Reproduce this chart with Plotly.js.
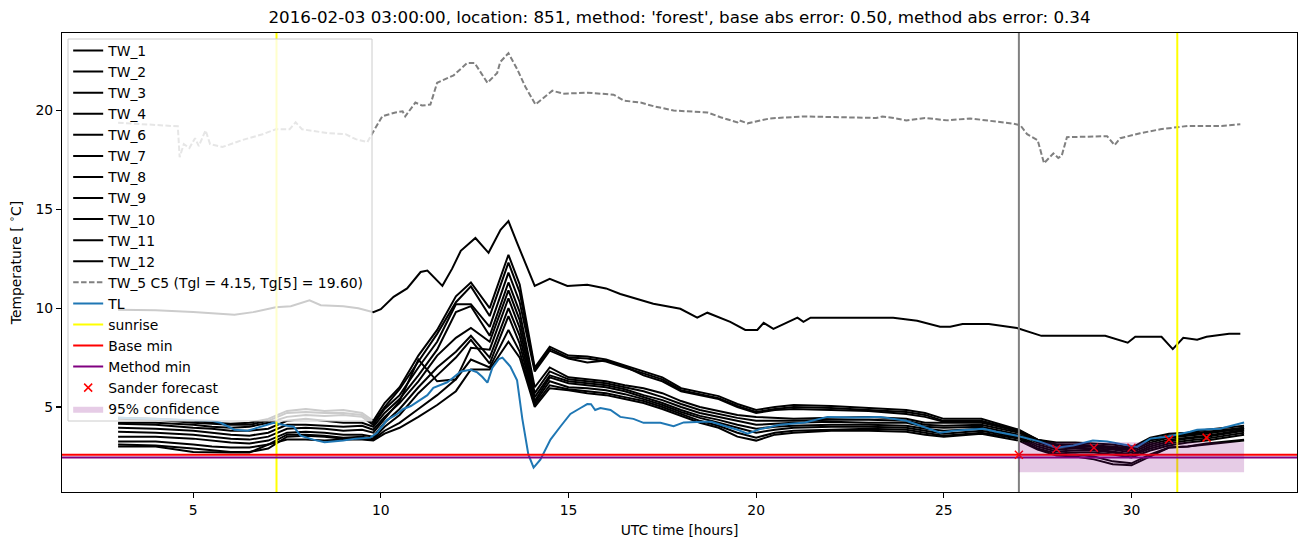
<!DOCTYPE html>
<html><head><meta charset="utf-8">
<script src="https://cdn.plot.ly/plotly-3.0.1.min.js"></script>
<style>html,body{margin:0;padding:0;background:#fff}#chart{width:1310px;height:547px}</style>
</head><body><div id="chart"></div>
<script>
// ---------------- data ----------------
const bandHours = [3,4,5,5.5,6,6.5,7,7.5,8,8.5,9,9.5,9.8,10.1,10.5,11,11.5,12,12.4,12.9,13.4,13.7,14.1,14.5,15,15.5,16,16.5,17,17.5,18,18.5,19,19.5,20,20.5,21,22,23,24,24.5,25,26,27,27.5,28,28.5,29,29.5,30,30.5,31,31.5,32,33];
const TW_2  = [4.45,4.4,4.3,4.2,4.15,4.2,4.4,4.8,4.9,4.8,4.85,4.7,4.3,5.2,6.0,7.6,8.9,10.6,11.3,10.0,12.7,11.2,7.0,8.05,7.6,7.55,7.4,7.1,6.8,6.5,5.95,5.75,5.55,5.15,4.85,5.0,5.1,5.05,4.95,4.85,4.7,4.4,4.4,3.85,3.35,3.2,3.2,3.15,3.1,2.95,3.45,3.65,3.7,3.85,4.05];
const TW_3  = [4.4,4.35,4.2,4.15,4.1,4.1,4.3,4.7,4.75,4.7,4.7,4.6,4.2,5.0,5.9,7.3,8.7,10.3,11.1,9.6,12.3,10.8,6.9,7.95,7.5,7.45,7.3,7.0,6.7,6.4,5.85,5.65,5.45,5.05,4.75,4.9,5.0,4.95,4.85,4.75,4.6,4.3,4.3,3.8,3.3,3.1,3.1,3.05,3.0,2.9,3.35,3.55,3.65,3.75,3.95];
const TW_4  = [4.2,4.2,4.1,4.0,3.95,4.0,4.2,4.5,4.6,4.55,4.6,4.5,4.1,4.9,5.6,7.0,8.3,10.2,10.2,9.05,11.8,10.3,6.8,7.85,7.45,7.25,7.35,7.05,6.6,6.3,5.8,5.6,5.4,5.0,4.7,4.85,4.9,4.85,4.8,4.65,4.5,4.25,4.25,3.75,3.25,3.05,3.0,3.0,2.95,2.85,3.3,3.5,3.6,3.7,3.9];
const TW_6  = [4.15,4.1,3.95,3.9,3.8,3.8,3.9,4.3,4.4,4.3,4.2,4.2,4.0,4.7,5.4,6.6,7.9,9.8,10.1,8.6,11.3,9.8,6.0,7.0,6.5,6.4,6.3,6.1,5.95,5.7,5.3,5.0,4.8,4.6,4.5,4.45,4.4,4.45,4.5,4.4,4.2,4.2,4.2,3.8,3.35,3.1,3.05,3.0,2.9,2.8,3.2,3.45,3.55,3.65,3.95];
const TW_7  = [3.95,3.9,3.8,3.7,3.6,3.55,3.7,4.1,4.1,4.05,4.0,4.05,3.85,4.5,5.2,6.3,7.6,8.5,9.0,8.3,10.9,9.4,5.7,6.8,6.4,6.3,6.2,6.0,5.8,5.5,5.15,4.85,4.65,4.45,4.3,4.3,4.3,4.35,4.35,4.3,4.1,4.05,4.1,3.7,3.25,3.0,2.95,2.9,2.85,2.7,3.1,3.35,3.45,3.55,3.85];
const TW_8  = [3.75,3.7,3.6,3.5,3.4,3.35,3.5,3.9,3.95,3.9,3.8,3.85,3.7,4.4,5.3,7.4,6.3,6.4,8.0,7.9,10.5,9.0,5.5,6.6,6.3,6.2,6.1,5.9,5.6,5.35,5.0,4.7,4.5,4.3,4.1,4.15,4.2,4.25,4.2,4.2,4.0,3.95,4.0,3.6,3.2,2.95,2.9,2.85,2.75,2.6,3.0,3.25,3.4,3.5,3.8];
const TW_9  = [3.5,3.5,3.4,3.3,3.2,3.15,3.3,3.7,3.75,3.7,3.6,3.6,3.5,4.2,4.9,6.0,7.0,7.8,8.6,7.5,10.0,8.6,5.3,6.5,6.2,6.1,6.0,5.8,5.5,5.2,4.85,4.55,4.35,4.1,3.9,4.0,4.05,4.1,4.1,4.05,3.9,3.8,3.9,3.5,3.1,2.85,2.8,2.8,2.7,2.55,2.9,3.15,3.3,3.4,3.7];
const TW_10 = [3.25,3.25,3.1,3.0,2.95,2.95,3.1,3.6,3.6,3.55,3.45,3.5,3.4,4.0,4.6,5.7,6.6,7.5,8.4,7.2,9.6,8.2,5.2,6.3,6.0,5.95,5.85,5.65,5.4,5.1,4.75,4.45,4.2,3.95,3.7,3.85,3.95,4.0,4.0,3.95,3.8,3.65,3.8,3.45,3.0,2.75,2.7,2.7,2.6,2.45,2.8,3.05,3.2,3.3,3.6];
const TW_11 = [3.1,3.05,2.9,2.8,2.72,2.72,2.9,3.5,3.55,3.5,3.4,3.4,3.35,3.8,4.2,4.9,5.6,6.4,7.4,7.0,8.9,7.8,5.1,6.1,5.9,5.8,5.7,5.5,5.3,5.0,4.65,4.3,4.05,3.7,3.45,3.7,3.8,3.85,3.9,3.85,3.7,3.55,3.7,3.4,2.9,2.65,2.6,2.5,2.25,2.15,2.6,2.95,3.0,3.15,3.35];
const TW_12 = [3.0,3.0,2.72,2.7,2.7,2.7,3.1,3.35,3.35,3.3,3.35,3.35,3.3,3.65,3.95,4.5,5.1,5.8,6.9,6.9,8.3,7.5,5.0,5.95,5.85,5.7,5.6,5.4,5.2,4.9,4.55,4.2,3.95,3.5,3.3,3.6,3.7,3.8,3.8,3.75,3.6,3.5,3.65,3.3,2.85,2.55,2.5,2.35,2.1,2.05,2.5,2.95,3.0,3.1,3.3];

const tw1Hours = [3.0,4.0,5.0,6.1,6.6,7.2,7.6,8.1,8.4,9.0,9.4,9.8,10.0,10.34,10.7,11.06,11.24,11.4,11.64,11.9,12.13,12.52,12.87,13.19,13.4,13.63,14.1,14.5,14.97,15.5,16.0,16.38,16.8,17.26,17.98,18.43,18.7,19.31,19.71,20.03,20.2,20.46,21.1,21.26,21.45,23.65,24.29,24.9,25.17,25.5,26.2,26.95,27.6,29.3,29.9,30.1,30.8,31.1,31.38,31.75,32.0,32.6,32.9];
const TW_1 = [9.92,9.9,9.8,9.67,9.8,10.05,10.1,10.4,10.15,10.1,10.0,9.8,9.95,10.57,11.0,11.83,11.9,11.6,11.13,12.0,12.9,13.55,12.8,13.96,14.4,13.3,11.13,11.48,11.12,11.18,11.0,10.72,10.5,10.22,9.97,9.52,9.77,9.31,8.9,8.9,9.26,8.95,9.52,9.31,9.52,9.52,9.36,9.06,9.06,9.2,9.2,9.0,8.6,8.6,8.25,8.55,8.55,7.93,8.5,8.4,8.55,8.7,8.7];

const tw5Hours = [3.0,4.59,4.64,4.75,4.9,5.05,5.15,5.33,5.45,5.78,6.3,6.85,7.2,7.57,7.73,7.9,8.6,9.06,9.33,9.64,9.82,10.04,10.39,10.58,10.65,10.92,11.1,11.32,11.5,11.94,12.3,12.5,12.84,13.1,13.18,13.4,13.63,13.85,14.12,14.57,14.86,15.5,16.2,16.47,16.92,17.3,17.8,18.7,19.05,19.5,19.55,19.77,20.37,21.26,23.2,23.36,23.57,24.0,24.5,25.1,25.7,26.17,26.86,27.04,27.22,27.5,27.67,27.92,28.05,28.14,28.28,29.35,29.55,29.7,30.23,30.77,31.2,31.5,32.4,32.9];
const TW_5 = [19.38,19.2,17.64,18.3,18.1,18.6,18.2,19.0,18.3,18.15,18.5,18.8,19.05,19.05,19.4,19.05,18.85,18.8,18.55,18.4,19.0,19.71,19.9,19.96,19.7,20.4,20.25,20.3,21.4,21.78,22.4,22.4,21.4,21.9,22.45,22.9,22.1,21.2,20.3,21.0,20.85,20.9,20.8,20.5,20.4,20.2,20.0,19.9,19.66,19.4,19.5,19.35,19.6,19.7,19.62,19.7,19.65,19.5,19.62,19.5,19.6,19.5,19.33,19.25,18.8,18.5,17.33,17.83,17.6,17.7,18.65,18.7,18.25,18.6,18.85,19.05,19.15,19.22,19.22,19.3];

const tlHours = [3.0,4.0,5.0,5.5,5.73,6.1,6.45,6.8,7.15,7.5,7.68,7.86,8.2,8.5,9.0,9.33,9.72,9.9,10.17,10.4,10.6,10.8,11.06,11.24,11.4,11.77,11.86,12.13,12.39,12.57,12.7,12.84,12.97,13.14,13.24,13.45,13.63,13.77,13.93,14.07,14.25,14.52,14.78,15.05,15.32,15.5,15.6,15.71,15.85,16.12,16.38,16.73,17.0,17.45,17.8,18.07,18.6,18.8,19.23,19.5,19.77,20.1,20.64,21.3,21.9,22.6,23.3,24.0,24.3,24.9,25.25,25.8,26.05,26.4,26.95,27.56,28.0,28.45,28.97,29.35,29.97,30.15,30.5,30.95,31.56,31.75,32.36,33.0];
const TL = [4.45,4.4,4.35,4.3,4.2,3.85,3.8,4.0,4.2,4.05,4.0,3.55,3.35,3.22,3.3,3.4,3.45,3.7,4.35,4.6,4.9,5.05,5.37,5.6,5.97,6.25,6.38,6.8,6.88,6.75,6.53,6.23,6.98,7.42,7.5,7.05,6.35,4.4,2.6,1.93,2.34,3.35,4.0,4.65,4.95,5.15,5.14,4.85,4.95,4.85,4.5,4.4,4.2,4.2,4.03,4.22,4.25,4.25,4.0,3.85,3.65,3.88,4.1,4.22,4.5,4.47,4.5,4.3,4.1,3.7,3.8,3.85,3.9,3.75,3.55,3.25,2.94,3.05,3.3,3.25,3.05,2.98,3.4,3.5,3.75,3.85,3.9,4.22];

const sunriseHours = [7.22, 31.22];
const forecastStart = 27;
const baseMin = 2.59;
const methodMin = 2.45;
const sanderHours = [27, 28, 29, 30, 31, 32];
const sanderForecast = [2.58, 2.88, 2.94, 2.94, 3.35, 3.45];
const confHours = [27, 33];
const confLow = [1.70, 1.70];
const confHigh = [3.22, 3.22];

const twNames = ['TW_1','TW_2','TW_3','TW_4','TW_6','TW_7','TW_8','TW_9','TW_10','TW_11','TW_12'];
const twSeries = [TW_1, TW_2, TW_3, TW_4, TW_6, TW_7, TW_8, TW_9, TW_10, TW_11, TW_12];
const tw5Label = 'TW_5 C5 (Tgl = 4.15, Tg[5] = 19.60)';

const xRange = [1.505, 34.41];
const yRange = [0.7, 23.92];

// ---------------- traces ----------------
const traces = [];
twSeries.forEach((s, i) => {
  traces.push({
    x: i === 0 ? tw1Hours : bandHours, y: s, name: twNames[i], type: 'scatter', mode: 'lines',
    line: {color: '#000000', width: 2}
  });
});
traces.push({x: tw5Hours, y: TW_5, name: tw5Label, mode: 'lines', line: {color: '#808080', width: 2, dash: '5.5px,2.4px'}});
traces.push({x: tlHours, y: TL, name: 'TL', mode: 'lines', line: {color: '#1f77b4', width: 2}});

const sx = [], sy = [];
sunriseHours.forEach(h => { sx.push(h, h, null); sy.push(yRange[0], yRange[1], null); });
traces.push({x: sx, y: sy, name: 'sunrise', mode: 'lines', line: {color: '#ffff00', width: 2}});
traces.push({x: [forecastStart, forecastStart], y: yRange, mode: 'lines', showlegend: false, line: {color: '#808080', width: 2}});
traces.push({x: xRange, y: [baseMin, baseMin], name: 'Base min', mode: 'lines', line: {color: '#ff0000', width: 2}});
traces.push({x: xRange, y: [methodMin, methodMin], name: 'Method min', mode: 'lines', line: {color: '#800080', width: 2}});
traces.push({x: sanderHours, y: sanderForecast, name: 'Sander forecast', mode: 'markers',
  marker: {symbol: 'x-thin-open', size: 8, color: '#ff0000', line: {color: '#ff0000', width: 1.5}}});
traces.push({x: confHours.concat(confHours.slice().reverse()), y: confHigh.concat(confLow.slice().reverse()),
  name: '95% confidence', mode: 'lines', fill: 'toself', fillcolor: 'rgba(128,0,128,0.2)', line: {width: 0, color: 'rgba(128,0,128,0)'}});

const font = {family: 'DejaVu Sans, sans-serif', size: 13.9, color: '#000000'};
const layout = {
  width: 1310, height: 547,
  margin: {l: 62, r: 13, t: 33, b: 55},
  paper_bgcolor: '#ffffff', plot_bgcolor: '#ffffff',
  font: font,
  showlegend: true,
  title: {text: "2016-02-03 03:00:00, location: 851, method: 'forest', base abs error: 0.50, method abs error: 0.34",
    font: {family: 'DejaVu Sans, sans-serif', size: 16.7, color: '#000000'},
    x: 0.5, xref: 'paper', xanchor: 'center', y: 1 - 17/547, yref: 'container', yanchor: 'middle'},
  xaxis: {range: xRange, tickvals: [5,10,15,20,25,30], ticks: 'outside', ticklen: 5, tickwidth: 1.1, tickcolor: '#000',
    showline: true, mirror: true, linecolor: '#000', linewidth: 1.1, showgrid: false, zeroline: false,
    title: {text: 'UTC time [hours]', font: font, standoff: 8}, tickfont: font},
  yaxis: {range: yRange, tickvals: [5,10,15,20], ticks: 'outside', ticklen: 5, tickwidth: 1.1, tickcolor: '#000',
    showline: true, mirror: true, linecolor: '#000', linewidth: 1.1, showgrid: false, zeroline: false,
    title: {text: 'Temperature [ <sup>∘</sup>C]', font: font, standoff: 10}, tickfont: font},
  shapes: [{type: 'rect', xref: 'paper', yref: 'paper', layer: 'above',
    x0: 6/1235, x1: 310/1235, y0: 1 - 388/459, y1: 1 - 6/459,
    fillcolor: 'rgba(255,255,255,0.8)', line: {color: '#cccccc', width: 1}}],
  legend: {x: 0.005, y: 1 - 2/459, xanchor: 'left', yanchor: 'top', bgcolor: 'rgba(0,0,0,0)',
    borderwidth: 0, font: font, traceorder: 'normal'}
};
Plotly.newPlot('chart', traces, layout, {displayModeBar: false, staticPlot: true});
</script>
</body></html>
